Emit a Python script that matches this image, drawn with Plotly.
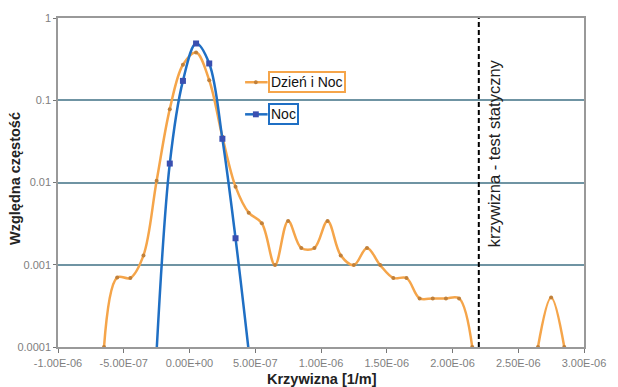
import plotly.graph_objects as go

# ---- data (curvature in 1/m, relative frequency) ----
x_dn = [-6.5e-7, -5.5e-7, -4.5e-7, -3.5e-7, -2.5e-7, -1.5e-7, -5e-8, 5e-8, 1.5e-7, 2.5e-7,
        3.5e-7, 4.5e-7, 5.5e-7, 6.5e-7, 7.5e-7, 8.5e-7, 9.5e-7, 1.05e-6, 1.15e-6, 1.25e-6,
        1.35e-6, 1.45e-6, 1.55e-6, 1.65e-6, 1.75e-6, 1.85e-6, 1.95e-6, 2.05e-6, 2.15e-6,
        2.25e-6, 2.35e-6, 2.45e-6, 2.55e-6, 2.65e-6, 2.75e-6, 2.85e-6]
y_dn = [0.0001, 0.00070, 0.00069, 0.0013, 0.0105, 0.078, 0.27, 0.38, 0.175, 0.036,
        0.0089, 0.0043, 0.0032, 0.00099, 0.0034, 0.0016, 0.0016, 0.0034, 0.0013, 0.00099,
        0.0016, 0.00099, 0.00069, 0.00069, 0.00039, 0.00039, 0.00039, 0.00039, 0.0001,
        None, None, None, None, 0.0001, 0.0004, 0.0001]

x_noc = [-2.5e-7, -1.5e-7, -5e-8, 5e-8, 1.5e-7, 2.5e-7, 3.5e-7, 4.5e-7]
y_noc = [0.00009, 0.017, 0.172, 0.49, 0.28, 0.034, 0.0021, 0.00009]

x_limit = 2.2e-6

x_tickvals = [-1e-6, -5e-7, 0, 5e-7, 1e-6, 1.5e-6, 2e-6, 2.5e-6, 3e-6]
x_ticktext = ["-1.00E-06", "-5.00E-07", "0.00E+00", "5.00E-07", "1.00E-06",
              "1.50E-06", "2.00E-06", "2.50E-06", "3.00E-06"]
y_tickvals = [0.0001, 0.001, 0.01, 0.1, 1]
y_ticktext = ["0.0001", "0.001", "0.01", "0.1", "1"]

name_dn = "Dzień i Noc"
name_noc = "Noc"

ORANGE = "#f5a54a"
ORANGE_M = "#c0803a"
BLUE = "#1f6fc4"
BLUE_M = "#3a4fb0"
FONT = "Arial, Liberation Sans, sans-serif"

fig = go.Figure()
fig.add_trace(go.Scatter(x=x_dn, y=y_dn, mode="lines+markers", name=name_dn,
                         line=dict(color=ORANGE, width=2.5, shape="spline", smoothing=1),
                         marker=dict(color=ORANGE_M, size=4, symbol="circle"),
                         connectgaps=False, showlegend=False))
fig.add_trace(go.Scatter(x=x_noc, y=y_noc, mode="lines+markers", name=name_noc,
                         line=dict(color=BLUE, width=2.5, shape="spline", smoothing=1),
                         marker=dict(color=BLUE_M, size=6, symbol="square"),
                         showlegend=False))

# vertical limit line
fig.add_shape(type="line", xref="x", yref="paper", x0=x_limit, x1=x_limit, y0=0, y1=1,
              line=dict(color="black", width=2, dash="5px,3px"))


def px_x(p):
    return (p - 58) / 537


def px_y(p):
    return (347 - p) / 333


fig.add_annotation(xref="paper", yref="paper", x=px_x(503), y=px_y(151), xanchor="center",
                   yanchor="middle", text="krzywizna - test statyczny", textangle=-90,
                   showarrow=False, font=dict(family=FONT, size=16.5, color="#222"))

# custom legend
for label, col, mcol, ypx, sym in [(name_dn, ORANGE, ORANGE_M, 79, "circle"),
                                   (name_noc, BLUE, BLUE_M, 111.5, "square")]:
    fig.add_shape(type="line", xref="paper", yref="paper", x0=px_x(249), x1=px_x(272),
                  y0=px_y(ypx), y1=px_y(ypx), line=dict(color=col, width=2.5))
    r = 2 if sym == "circle" else 3
    fig.add_shape(type="circle" if sym == "circle" else "rect", xref="paper", yref="paper",
                  x0=px_x(260 - r), x1=px_x(260 + r), y0=px_y(ypx + r), y1=px_y(ypx - r),
                  line=dict(width=0), fillcolor=mcol)
    fig.add_annotation(xref="paper", yref="paper", x=px_x(272), y=px_y(ypx), xanchor="left",
                       yanchor="middle", text=label, showarrow=False,
                       bordercolor=col, borderwidth=2, borderpad=1, bgcolor="white",
                       font=dict(family=FONT, size=14, color="#111"))

# axis titles
fig.add_annotation(xref="paper", yref="paper", x=px_x(14), y=px_y(176), xanchor="center",
                   yanchor="middle", text="<b>Względna częstość</b>",
                   textangle=-90, showarrow=False, font=dict(family=FONT, size=14.5, color="#222"))
fig.add_annotation(xref="paper", yref="paper", x=px_x(328), y=px_y(379), xanchor="center",
                   yanchor="middle", text="<b>Krzywizna [1/m]</b>",
                   showarrow=False, font=dict(family=FONT, size=14.5, color="#222"))

fig.update_xaxes(range=[-1e-6, 3e-6], tickvals=x_tickvals, ticktext=x_ticktext,
                 showgrid=False, zeroline=False, showline=True, linecolor="#999", linewidth=1.5,
                 mirror=True, ticks="outside", ticklen=4, tickcolor="#777",
                 ticklabelstandoff=1,
                 tickfont=dict(family=FONT, size=11, color="#808080"))
fig.update_yaxes(type="log", range=[-4, 0], tickvals=y_tickvals, ticktext=y_ticktext,
                 showgrid=True, gridcolor="#6f94a3", gridwidth=1.5, zeroline=False,
                 showline=True, linecolor="#999", linewidth=1.5, mirror=True,
                 ticks="outside", ticklen=3, tickcolor="#777",
                 tickfont=dict(family=FONT, size=11, color="#808080"))

fig.update_layout(width=618, height=387, margin=dict(l=58, r=23, t=14, b=40),
                  plot_bgcolor="white", paper_bgcolor="white", showlegend=False,
                  font=dict(family=FONT))

fig.write_html("out.html", config={"displayModeBar": False},
               post_script="document.body.style.margin='0px';")
